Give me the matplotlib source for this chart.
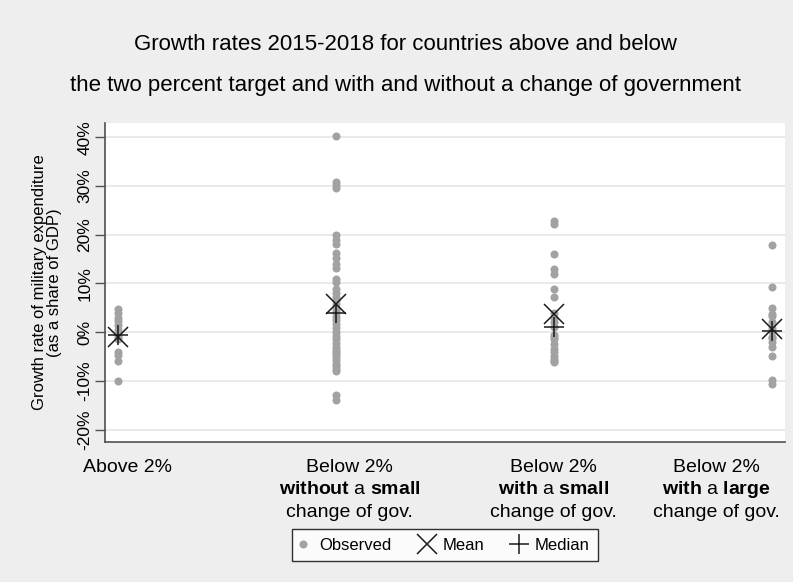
import numpy as np
import matplotlib
matplotlib.use("Agg")
import matplotlib.pyplot as plt
import matplotlib.transforms as mtransforms
from matplotlib.lines import Line2D

plt.rcParams["font.family"] = ["Liberation Sans", "DejaVu Sans"]
plt.rcParams["mathtext.fontset"] = "custom"
plt.rcParams["mathtext.rm"] = "Liberation Sans"
plt.rcParams["mathtext.bf"] = "Liberation Sans:bold"

# Growth rates (percent) of military expenditure as a share of GDP, 2015-2018
above_2 = [4.8, 4.0, 3.0, 2.3, 1.5, 0.5, -0.5, -1.0, -1.5, -4.0, -4.8, -6.0, -10.0]
below_no_change = [40.2, 30.8, 30.2, 29.5, 20.0, 19.0, 18.0, 16.2, 15.3, 14.0,
                   13.2, 11.0, 10.2, 8.8, 8.0, 7.2, 6.5, 5.8, 5.0, 4.4, 4.0,
                   3.2, 2.4, 1.6, 0.8, 0.0, -0.8, -1.5, -2.2, -3.0, -3.7, -4.0,
                   -4.4, -5.1, -5.8, -6.5, -7.0, -7.5, -8.0, -13.0, -14.0]
below_small_change = [22.8, 22.2, 16.0, 13.0, 12.0, 8.8, 7.2, 4.0, 3.0, 2.0, 1.1,
                      -0.5, -1.0, -1.5, -2.5, -3.5, -4.0, -5.0, -5.5, -6.0, -6.2]
below_large_change = [17.8, 9.2, 5.0, 3.8, 3.4, 2.0, 0.8, 0.3, -1.0, -1.2, -2.0,
                      -3.0, -5.0, -9.8, -10.6]

groups = [above_2, below_no_change, below_small_change, below_large_change]
group_labels = [
    ["Above 2%"],
    ["Below 2%", "$\\bf{without}$ a $\\bf{small}$", "change of gov."],
    ["Below 2%", "$\\bf{with}$ a $\\bf{small}$", "change of gov."],
    ["Below 2%", "$\\bf{with}$ a $\\bf{large}$", "change of gov."],
]
y_ticks = [-20, -10, 0, 10, 20, 30, 40]

W, H = 793, 582
fig = plt.figure(figsize=(W / 100, H / 100), dpi=100)
fig.patch.set_facecolor("#eeeeee")
ax = fig.add_axes([105 / W, 1 - 441.7 / H, 680 / W, 319 / H])
ax.set_facecolor("white")

dot_color = "#a2a2a5"
mark_color = "#1a1a1a"
for i, vals in enumerate(groups):
    v = np.asarray(vals)
    ax.plot(np.full(v.size, i), v, "o", color=dot_color, ms=5.8, mew=0, zorder=3)
    ax.plot(i, v.mean(), "x", color=mark_color, ms=14, mew=1.1, zorder=4)
    ax.plot(i, np.median(v), "+", color=mark_color, ms=14, mew=1.1, zorder=4)

ax.set_xlim(-0.058, 3.061)
ax.set_ylim(-22.5, 43.0)

ax.set_yticks(y_ticks)
ax.set_yticklabels([f"{t}%" for t in y_ticks], rotation=90, va="center", fontsize=12.5)
ax.yaxis.grid(True, color="#e6e6e6", lw=1.2)
ax.set_axisbelow(True)
ax.tick_params(axis="y", length=7, width=1, color="#505050", pad=2)
ax.set_xticks([])

# category labels, one text per line so bold and plain lines share a common baseline grid
label_x = [0.047, 1.065, 2.001, 2.748]
trans = mtransforms.blended_transform_factory(ax.transData, fig.transFigure)
for x, lines in zip(label_x, group_labels):
    for k, line in enumerate(lines):
        ax.text(x, 1 - (472 + 22.5 * k) / H, line, transform=trans,
                ha="center", va="baseline", fontsize=14, clip_on=False)

for side in ("top", "right"):
    ax.spines[side].set_visible(False)
for side in ("left", "bottom"):
    ax.spines[side].set_color("#505050")
    ax.spines[side].set_linewidth(1.2)

ax.set_ylabel("Growth rate of military expenditure\n(as a share of GDP)",
              fontsize=12, labelpad=11, linespacing=1.05)

fig.text(405 / W, 1 - 44 / H, "Growth rates 2015-2018 for countries above and below",
         ha="center", va="center", fontsize=16)
fig.text(405 / W, 1 - 86 / H,
         "the two percent target and with and without a change of government",
         ha="center", va="center", fontsize=16)

handles = [
    Line2D([], [], ls="none", marker="o", color=dot_color, ms=5.8, mew=0),
    Line2D([], [], ls="none", marker="x", color=mark_color, ms=14, mew=1.1),
    Line2D([], [], ls="none", marker="+", color=mark_color, ms=14, mew=1.1),
]
leg = fig.legend(handles, ["Observed", "Mean", "Median"], loc="center",
                 bbox_to_anchor=(445 / W, 1 - 545 / H), ncol=3, fontsize=12,
                 frameon=True, fancybox=False, edgecolor="black",
                 handlelength=0.4, handletextpad=0.75, columnspacing=1.9,
                 borderpad=0.5)
leg.get_frame().set_linewidth(1.0)

fig.savefig("out.png", dpi=100, facecolor=fig.get_facecolor())
